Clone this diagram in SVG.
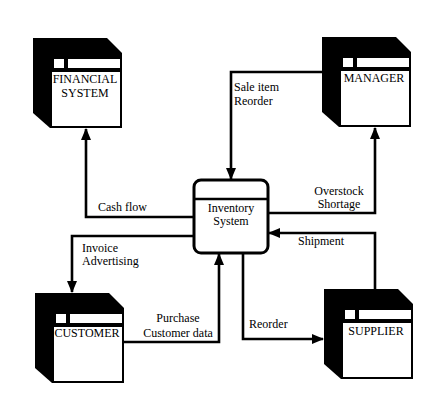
<svg xmlns="http://www.w3.org/2000/svg" width="439" height="420" viewBox="0 0 439 420">
<style>
text{font-family:"Liberation Serif","Times New Roman",serif;font-size:12px;fill:#000}
.c{text-anchor:middle}
.ln{fill:none;stroke:#000;stroke-width:2.6;stroke-linejoin:miter}
.blk{fill:#000}
.wh{fill:#fff}
</style>
<defs>
<marker id="ah" markerUnits="userSpaceOnUse" markerWidth="12" markerHeight="10" refX="11" refY="5" orient="auto">
<path d="M0,0 L12,5 L0,10 Z" fill="#000"/>
</marker>
<g id="box">
<polygon class="blk" points="0,0 74,0 89,15 89,90 17,90 0,75"/>
<rect class="wh" x="21" y="21" width="10" height="9"/>
<rect class="wh" x="35" y="21" width="52" height="9"/>
<rect class="wh" x="19" y="34" width="68" height="54"/>
</g>
</defs>
<rect width="439" height="420" fill="#fff"/>
<g id="connectors">
<polyline class="ln" points="194,217 86,217 86,129" marker-end="url(#ah)"/>
<polyline class="ln" points="322,72 231,72 231,179" marker-end="url(#ah)"/>
<polyline class="ln" points="268,213 375,213 375,128" marker-end="url(#ah)"/>
<polyline class="ln" points="375,289 375,233 269,233" marker-end="url(#ah)"/>
<polyline class="ln" points="194,236 72,236 72,292" marker-end="url(#ah)"/>
<polyline class="ln" points="124,342 219,342 219,254" marker-end="url(#ah)"/>
<polyline class="ln" points="243,253 243,339 323,339" marker-end="url(#ah)"/>
<text x="98" y="211">Cash flow</text>
<text x="82" y="252">Invoice</text>
<text x="82" y="265">Advertising</text>
<text x="234" y="91">Sale item</text>
<text x="234" y="105">Reorder</text>
<text class="c" x="339" y="195">Overstock</text>
<text class="c" x="339" y="208">Shortage</text>
<text x="298" y="245">Shipment</text>
<text class="c" x="178" y="322">Purchase</text>
<text class="c" x="178" y="337">Customer data</text>
<text x="249" y="328">Reorder</text>
</g>
<g id="financial">
<use href="#box" x="33" y="38"/>
<text class="c" x="85" y="83">FINANCIAL</text>
<text class="c" x="85" y="97">SYSTEM</text>
</g>
<g id="manager">
<use href="#box" x="322" y="37"/>
<text class="c" x="374" y="82">MANAGER</text>
</g>
<g id="customer">
<use href="#box" x="35" y="293"/>
<text class="c" x="87" y="337">CUSTOMER</text>
</g>
<g id="supplier">
<use href="#box" x="324" y="289"/>
<text class="c" x="376" y="335">SUPPLIER</text>
</g>
<g id="inventory">
<rect x="194" y="180" width="74" height="73" rx="7" fill="#fff" stroke="#000" stroke-width="3"/>
<line x1="194" y1="199" x2="268" y2="199" stroke="#000" stroke-width="2.6"/>
<text class="c" x="231" y="212">Inventory</text>
<text class="c" x="231" y="225">System</text>
</g>
</svg>
